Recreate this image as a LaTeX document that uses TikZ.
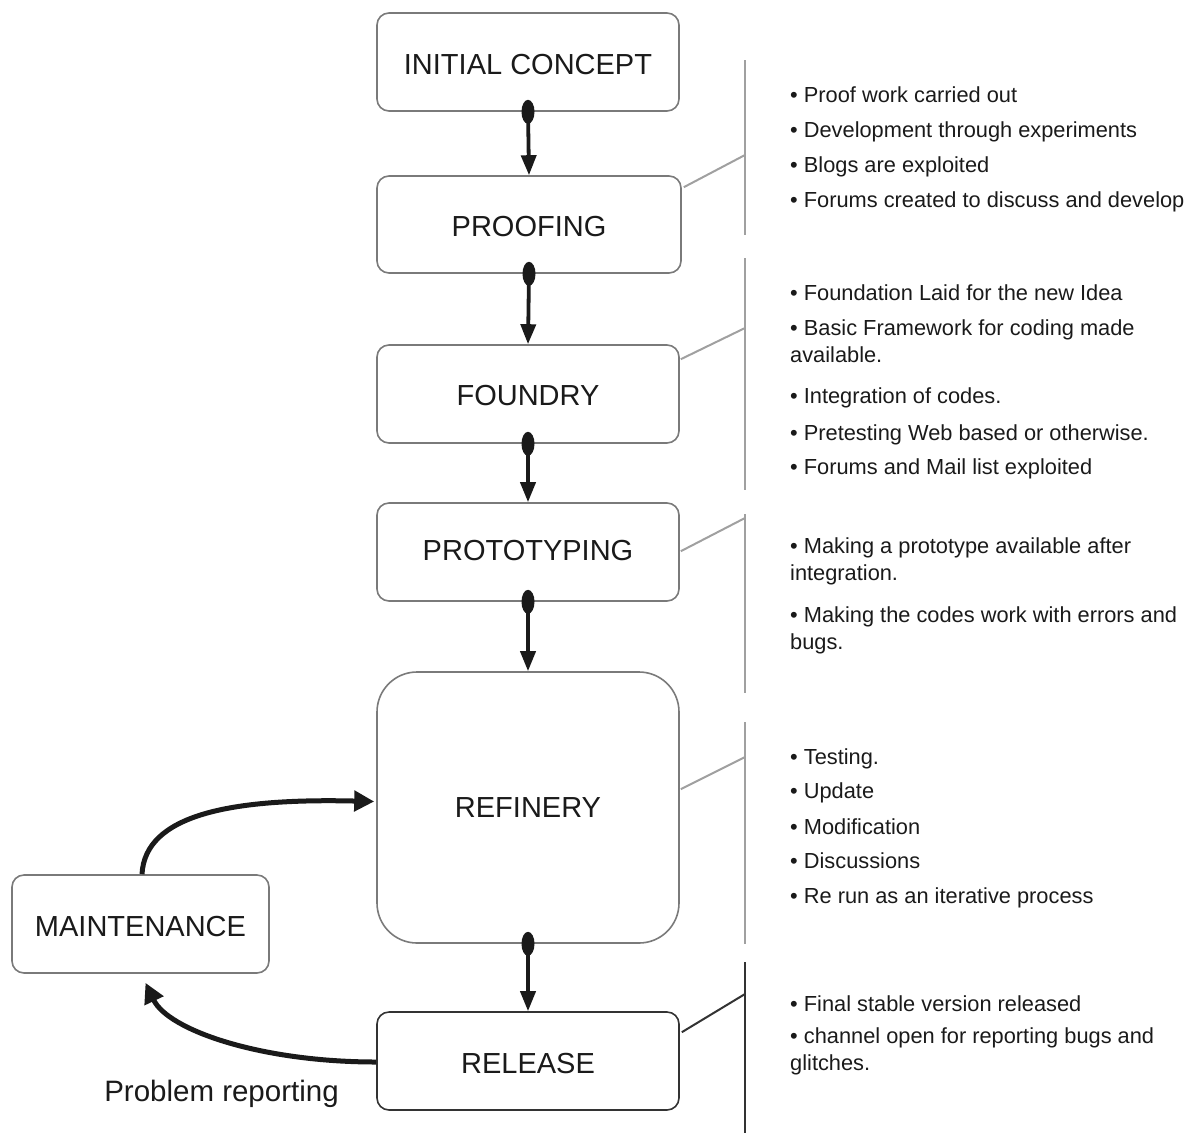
\documentclass[tikz,border=0pt]{standalone}
\usepackage{fontspec}
\setmainfont{Liberation Sans}
\usetikzlibrary{arrows.meta,calc}
\definecolor{boxgray}{HTML}{7A7A7A}
\definecolor{brgray}{HTML}{A0A0A0}
\definecolor{brdark}{HTML}{333333}
\definecolor{ink}{HTML}{1A1A1A}
\newcommand{\lowerby}[2]{\raisebox{-#1}[\height][\depth]{#2}}
\begin{document}
\begin{tikzpicture}[x=1pt,y=-1pt,
  box/.style={draw=boxgray, line width=1.6pt, rounded corners=12pt, fill=white, text=ink,
              font=\fontsize{29}{34}\selectfont, inner sep=0pt, minimum width=302pt, minimum height=98pt},
  flow/.style={line width=3.8pt, draw=ink, -{Triangle[width=15pt,length=20pt]}},
  loop/.style={line width=5pt, draw=ink, -{Triangle[width=20pt,length=20pt]}},
  bracket/.style={draw=brgray, line width=2pt},
  note/.style={anchor=base west, inner sep=0pt, align=left, text=ink, font=\fontsize{21.8}{27}\selectfont}]

\useasboundingbox (0,0) rectangle (1196,1133);

% boxes
\node[box] (ic) at (528,62) {\lowerby{2.5pt}{INITIAL CONCEPT}};
\node[box, minimum width=304pt, minimum height=97pt] (pf) at (529,224.5) {\lowerby{2pt}{PROOFING}};
\node[box] (fd) at (528,394) {\lowerby{2pt}{FOUNDRY}};
\node[box] (pt) at (528,552) {\lowerby{-1pt}{PROTOTYPING}};
\node[box, rounded corners=40pt, minimum height=271pt] (rf) at (528,807.5) {REFINERY};
\node[box, draw=brdark] (rl) at (528,1061) {\lowerby{2pt}{RELEASE}};
\node[box, minimum width=257pt] (mt) at (140.5,924) {\lowerby{3pt}{MAINTENANCE}};

% vertical flow connectors
\foreach \a/\b in {ic/pf,pf/fd,fd/pt,pt/rf,rf/rl}{
  \draw[flow] (\a.south) -- (\b.north);
  \fill[ink] (\a.south) ellipse (6.5pt and 12pt);
}

% loop arrows
\draw[loop] ($(mt.north)+(1.5,0)$) .. controls (145,815) and (230,798) .. ($(rf.west)+(-2,-6)$);
\draw[loop] ($(rl.west)+(0,1)$) .. controls (260,1062) and (168,1030) .. ($(mt.south)+(5,9)$);
\node[inner sep=0pt, text=ink, font=\fontsize{29.5}{34}\selectfont] (pr) at (221.5,1094) {Problem reporting};

% bracket lines
\coordinate (v1t) at (745,60);  \coordinate (v1b) at (745,235);
\coordinate (v2t) at (745,258); \coordinate (v2b) at (745,490);
\coordinate (v3t) at (745,514); \coordinate (v3b) at (745,693);
\coordinate (v4t) at (745,722); \coordinate (v4b) at (745,944);
\coordinate (v5t) at (745,962); \coordinate (v5b) at (745,1133);
\coordinate (j1) at (745,155);
\coordinate (j2) at (745,328);
\coordinate (j3) at (745,518);
\coordinate (j4) at (745,757);
\coordinate (j5) at (745,994);
\draw[bracket] (v1t) -- (v1b);
\draw[bracket] (v2t) -- (v2b);
\draw[bracket] (v3t) -- (v3b);
\draw[bracket] (v4t) -- (v4b);
\draw[bracket, draw=brdark] (v5t) -- (v5b);
\draw[bracket] ($(pf.north east)+(2,12)$) -- (j1);
\draw[bracket] ($(fd.north east)+(1,15)$) -- (j2);
\draw[bracket] ($(pt.north east)+(1,49)$) -- (j3);
\draw[bracket] ($(rf.north east)+(1,118)$) -- (j4);
\draw[bracket, draw=brdark] ($(rl.north east)+(2,21)$) -- (j5);

% notes
\node[note] (n11) at (790,102) {• Proof work carried out};
\node[note] (n12) at (790,137) {• Development through experiments};
\node[note] (n13) at (790,172) {• Blogs are exploited};
\node[note] (n14) at (790,207) {• Forums created to discuss and develop};

\node[note] (n21) at (790,300) {• Foundation Laid for the new Idea};
\node[note] (n22) at (790,362) {• Basic Framework for coding made\\available.};
\node[note] (n23) at (790,403) {• Integration of codes.};
\node[note] (n24) at (790,440) {• Pretesting Web based or otherwise.};
\node[note] (n25) at (790,474) {• Forums and Mail list exploited};

\node[note] (n31) at (790,580) {• Making a prototype available after\\integration.};
\node[note] (n32) at (790,649) {• Making the codes work with errors and\\bugs.};

\node[note] (n41) at (790,764) {• Testing.};
\node[note] (n42) at (790,798) {• Update};
\node[note] (n43) at (790,834) {• Modification};
\node[note] (n44) at (790,868) {• Discussions};
\node[note] (n45) at (790,903) {• Re run as an iterative process};

\node[note] (n51) at (790,1011) {• Final stable version released};
\node[note] (n52) at (790,1070) {• channel open for reporting bugs and\\glitches.};
\end{tikzpicture}
\end{document}
